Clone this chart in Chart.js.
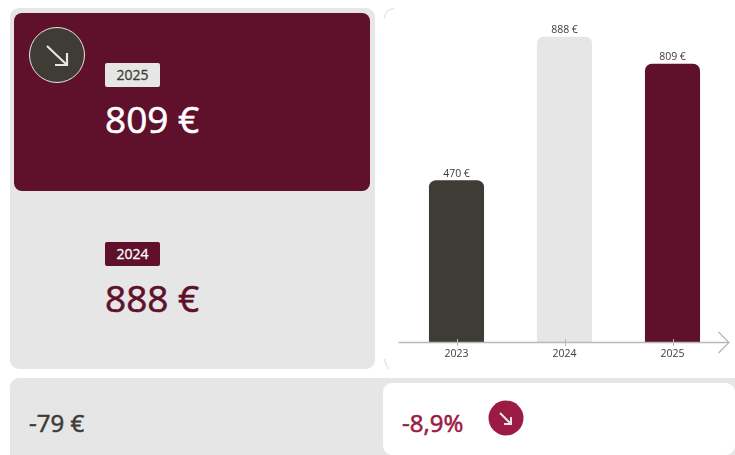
<!DOCTYPE html>
<html lang="fr">
<head>
<meta charset="utf-8">
<title>Chart</title>
<script src="https://cdn.jsdelivr.net/npm/chart.js@4"></script>
<style>
    html, body { margin: 0; padding: 0; background: #fff; }
    body { width: 735px; height: 455px; position: relative; overflow: hidden; font-family: "Open Sans", sans-serif; }
    .box { position: absolute; box-sizing: border-box; }
    .txt { position: absolute; white-space: nowrap; line-height: 1; -webkit-text-stroke: 0.6px currentColor; }
    .badge { position: absolute; left: 105px; width: 55px; height: 24px; border-radius: 2px; font-size: 14px; line-height: 24px; text-align: center; -webkit-text-stroke: 0.3px currentColor; }
    #chart-wrap { position: absolute; left: 384px; top: 8px; width: 351px; height: 361px; background: #fff; }
</style>
</head>
<body>
<div class="box" style="left:10px;top:8px;width:365px;height:361px;background:#e6e6e6;border-radius:9px"></div>
<div class="box" style="left:14px;top:13px;width:356px;height:178px;background:#5f102a;border-radius:8px"></div>
<div class="box" style="left:10px;top:378px;width:725px;height:77px;background:#e6e6e6;border-radius:9px 0 0 0"></div>
<div class="box" style="left:383px;top:383px;width:352px;height:72px;background:#fff;border-radius:9px"></div>

<svg class="box" style="left:29px;top:27px" width="56" height="56" viewBox="0 0 56 56">
    <circle cx="28" cy="28" r="27.5" fill="#3f3c36" stroke="#e6e6e6" stroke-width="1"/>
    <path d="M18 19 L38 38 M38 26 V38 H26" fill="none" stroke="#e6e6e6" stroke-width="2.2"/>
</svg>
<svg class="box" style="left:488px;top:400px" width="36" height="36" viewBox="0 0 36 36">
    <circle cx="18" cy="18" r="17.5" fill="#9b1b45"/>
    <path d="M12 13 L23 24 M23 17 V24 H16" fill="none" stroke="#e6e6e6" stroke-width="2"/>
</svg>

<div class="badge" id="badge-current" style="top:63px;background:#e6e6e6;color:#3f3c36"></div>
<div class="txt" id="value-current" style="left:105px;top:100px;font-size:37px;color:#fff"></div>
<div class="badge" id="badge-previous" style="top:242px;background:#5f102a;color:#fff"></div>
<div class="txt" id="value-previous" style="left:105px;top:279px;font-size:37px;color:#5f102a"></div>
<div class="txt" id="delta-abs" style="left:29px;top:411px;font-size:24px;color:#3f3c36"></div>
<div class="txt" id="delta-pct" style="left:402px;top:411px;font-size:24px;color:#9b1b45"></div>

<div id="chart-wrap"><canvas id="barChart" width="351" height="361"></canvas></div>

<!-- faint corner arcs of the chart card -->
<svg class="box" style="left:383px;top:7px" width="14" height="364" viewBox="0 0 14 364">
    <path d="M1.5 11 Q2 2 11 1.5 M1.5 352 Q2 358 6 362" fill="none" stroke="#d9d9d9" stroke-width="1"/>
</svg>

<script>
const years = ['2023', '2024', '2025'];
const amounts = [470, 888, 809];
const barColors = ['#3f3c36', '#e6e6e6', '#5f102a'];
const deltaAbs = '-79 €';
const deltaPct = '-8,9%';

const euro = v => v + ' €';

document.getElementById('badge-current').textContent = years[2];
document.getElementById('value-current').textContent = euro(amounts[2]);
document.getElementById('badge-previous').textContent = years[1];
document.getElementById('value-previous').textContent = euro(amounts[1]);
document.getElementById('delta-abs').textContent = deltaAbs;
document.getElementById('delta-pct').textContent = deltaPct;

// value labels above bars
const barLabels = {
    id: 'barLabels',
    afterDatasetsDraw(chart) {
        const ctx = chart.ctx;
        ctx.save();
        ctx.font = '10.5px "Open Sans"';
        ctx.fillStyle = '#3f3c36';
        ctx.textAlign = 'center';
        ctx.textBaseline = 'bottom';
        chart.getDatasetMeta(0).data.forEach((bar, i) => {
            ctx.fillText(euro(amounts[i]), bar.x, bar.y - 1);
        });
        ctx.restore();
    }
};

// x axis line with arrow head and ticks
const arrowAxis = {
    id: 'arrowAxis',
    afterDatasetsDraw(chart) {
        const ctx = chart.ctx;
        const x = chart.scales.x;
        const base = chart.scales.y.getPixelForValue(0);
        ctx.save();
        ctx.strokeStyle = '#b8b8b8';
        ctx.lineWidth = 1.3;
        ctx.beginPath();
        ctx.moveTo(x.left - 4, base + 0.5);
        ctx.lineTo(x.right + 2, base + 0.5);
        ctx.moveTo(x.right - 8, base - 10);
        ctx.lineTo(x.right + 2.5, base + 0.5);
        ctx.lineTo(x.right - 8, base + 11);
        ctx.stroke();
        ctx.lineWidth = 1;
        ctx.beginPath();
        years.forEach((y, i) => {
            const px = Math.round(x.getPixelForTick(i)) + 0.5;
            ctx.moveTo(px, base - 3);
            ctx.lineTo(px, base + 4);
        });
        ctx.stroke();
        ctx.restore();
    }
};

new Chart(document.getElementById('barChart'), {
    type: 'bar',
    data: {
        labels: years,
        datasets: [{
            data: amounts,
            backgroundColor: barColors,
            borderRadius: { topLeft: 7, topRight: 7 },
            borderSkipped: false,
            barPercentage: 0.51,
            categoryPercentage: 1
        }]
    },
    plugins: [barLabels, arrowAxis],
    options: {
        responsive: false,
        animation: false,
        layout: { padding: { left: 18.5, right: 8.5, top: 28.5 } },
        plugins: { legend: { display: false }, tooltip: { enabled: false } },
        scales: {
            x: {
                border: { display: false },
                grid: { display: false, drawTicks: false },
                afterFit: scale => { scale.height = 27; },
                ticks: { color: '#3f3c36', font: { family: 'Open Sans', size: 10.5 }, padding: 6, maxRotation: 0 }
            },
            y: { display: false, min: 0, max: 888 }
        }
    }
});
</script>
</body>
</html>
